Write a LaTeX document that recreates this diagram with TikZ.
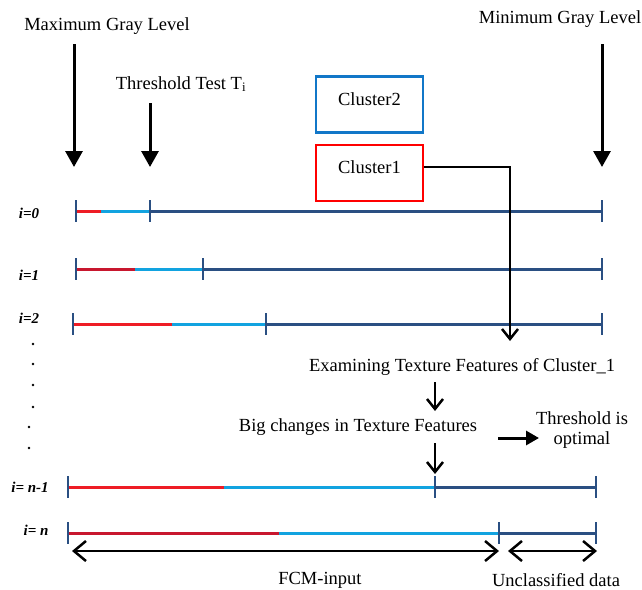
\documentclass[tikz,border=0pt]{standalone}
\usepackage{fontspec}
\setmainfont{Liberation Serif}
\usetikzlibrary{arrows.meta}
\definecolor{cred}{HTML}{EE1C25}
\definecolor{cdred}{HTML}{C8172E}
\definecolor{ccyan}{HTML}{12A3E0}
\definecolor{cdark}{HTML}{2A4F82}
\definecolor{cboxblue}{HTML}{1177C8}
\begin{document}
\begin{tikzpicture}[x=1pt,y=-1pt,
 txt/.style={font=\fontsize{18.5}{20}\selectfont, inner sep=0pt},
 lbl/.style={font=\fontsize{15}{17}\selectfont\bfseries\itshape, inner sep=0pt},
 seg/.style={line width=3pt},
 tickmark/.style={draw=cdark, line width=1.8pt},
 bigarrow/.style={line width=3pt, -{Triangle[length=16pt,width=17pt]}},
 veearrow/.style={line width=2.5pt, -{Straight Barb[length=10pt,width=16pt]}},
 dblarrow/.style={line width=2.5pt, {Straight Barb[length=12pt,width=20pt]}-{Straight Barb[length=12pt,width=20pt]}},
 clbox/.style={draw, line width=2.5pt, minimum width=107pt, minimum height=56pt, inner sep=0pt,
   font=\fontsize{18.5}{20}\selectfont, text height=14pt, text depth=13pt},
 dotmark/.style={fill=black}
]
\useasboundingbox (0,0) rectangle (642,589);

% top texts
\node[txt] (maxg) at (107,26) {Maximum Gray Level};
\node[txt] (thr) at (181,84) {Threshold Test T\textsubscript{i}};
\node[txt] (ming) at (560,19) {Minimum Gray Level};

% big arrows
\coordinate (a1s) at (74,44);  \coordinate (a1e) at (74,167);
\coordinate (a2s) at (150,103); \coordinate (a2e) at (150,167);
\coordinate (a3s) at (602,44); \coordinate (a3e) at (602,167);
\draw[bigarrow] (a1s) -- (a1e);
\draw[bigarrow] (a2s) -- (a2e);
\draw[bigarrow] (a3s) -- (a3e);

% cluster boxes
\node[clbox, draw=cboxblue] (c2) at (369.5,104.5) {Cluster2};
\node[clbox, draw=red] (c1) at (369.5,173) {Cluster1};

% row labels
\node[lbl] (l0) at (29,213) {i=0};
\node[lbl] (l1) at (29,275) {i=1};
\node[lbl] (l2) at (29,318) {i=2};
\node[lbl] (ln1) at (30,487) {i= n-1};
\node[lbl] (ln) at (36,530) {i= n};

% dots
\foreach \p in {(33,344),(33,364),(33,385),(33,407),(29,427),(29,448)}
  \fill[dotmark] \p circle (1.3);

% row i=0
\draw[seg,cred] (76,211) -- (101,211);
\draw[seg,ccyan] (101,211) -- (150,211);
\draw[seg,cdark] (150,211) -- (602,211);
\foreach \x in {76,150,602} \draw[tickmark] (\x,200) -- (\x,222);
% row i=1
\draw[seg,cdred] (76,269) -- (135,269);
\draw[seg,ccyan] (135,269) -- (203,269);
\draw[seg,cdark] (203,269) -- (602,269);
\foreach \x in {76,203,602} \draw[tickmark] (\x,258) -- (\x,280);
% row i=2
\draw[seg,cred] (73,324) -- (172,324);
\draw[seg,ccyan] (172,324) -- (266,324);
\draw[seg,cdark] (266,324) -- (602,324);
\foreach \x in {73,266,602} \draw[tickmark] (\x,313) -- (\x,335);
% row i=n-1
\draw[seg,cred] (68,487) -- (224,487);
\draw[seg,ccyan] (224,487) -- (435,487);
\draw[seg,cdark] (435,487) -- (596,487);
\foreach \x in {68,435,596} \draw[tickmark] (\x,476) -- (\x,498);
% row i=n
\draw[seg,cdred] (68,533) -- (279,533);
\draw[seg,ccyan] (279,533) -- (499,533);
\draw[seg,cdark] (499,533) -- (596,533);
\foreach \x in {68,499,596} \draw[tickmark] (\x,522) -- (\x,544);

% flow on the right
\coordinate (exin) at (510,341);
\draw[veearrow] ([yshift=6pt]c1.east) -| (exin);
\node[txt] (exa) at (462,367) {Examining Texture Features of Cluster\_1};
\node[txt] (big) at (358,427) {Big changes in Texture Features};
\node[txt, align=center] (opt) at (582,430) {Threshold is\\optimal};
\coordinate (v1s) at (435,382); \coordinate (v1e) at (435,411);
\draw[veearrow] (v1s) -- (v1e);
\coordinate (v2s) at (435,443); \coordinate (v2e) at (435,474);
\draw[veearrow] (v2s) -- (v2e);
\coordinate (rs) at (498,438); \coordinate (re) at (539,438);
\draw[line width=3pt, -{Triangle[length=13pt,width=14pt]}] (rs) -- (re);

% bottom ranges
\coordinate (f1) at (72,551); \coordinate (f2) at (499,551);
\coordinate (u1) at (508,551); \coordinate (u2) at (597,551);
\draw[dblarrow] (f1) -- (f2);
\draw[dblarrow] (u1) -- (u2);
\node[txt] (fcm) at (320,580) {FCM-input};
\node[txt] (unc) at (556,580) {Unclassified data};
\end{tikzpicture}
\end{document}
